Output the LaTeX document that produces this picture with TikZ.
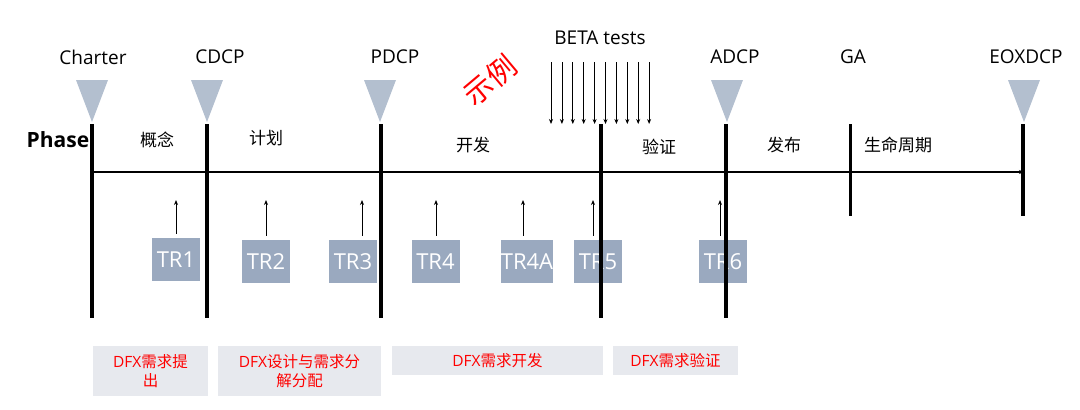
\documentclass[tikz,border=0pt]{standalone}
\usepackage{fontspec}
\setmainfont{Open Sans}
\newfontfamily\cjk{Noto Sans CJK SC}
\usetikzlibrary{arrows.meta}

\definecolor{gatecol}{HTML}{B3BFCF}
\definecolor{trcol}{HTML}{9AA9BF}
\definecolor{dfxcol}{HTML}{E7E9EE}

\begin{document}
\begin{tikzpicture}[x=1pt, y=-1pt, >={Stealth[length=5pt,width=4pt]},
    mslabel/.style={font=\fontsize{19}{22}\selectfont, inner sep=0pt},
    phaselabel/.style={font=\cjk\fontsize{17}{20}\selectfont, inner sep=0pt},
    trbox/.style={fill=trcol, text=white, minimum width=48pt, minimum height=43pt,
        inner sep=0pt, font=\fontsize{22}{24}\selectfont},
    dfxbox/.style={fill=dfxcol, text=red, inner sep=0pt, align=center,
        font=\fontsize{15.5}{19}\selectfont},
    gateline/.style={line width=4pt}]
    \useasboundingbox (0,0) rectangle (1080,410);

    % 1. 里程碑名称
    \foreach \x/\n/\txt in {93/charter/Charter, 220/cdcp/CDCP, 395/pdcp/PDCP,
        735/adcp/ADCP, 853/ga/GA, 1026/eox/EOXDCP}
        \node[mslabel] (\n) at (\x,57) {\txt};
    \node[mslabel] (beta) at (600,38) {BETA tests};

    % 2. 决策点三角形
    \foreach \x in {92,207,380,727,1024}
        \fill[gatecol] (\x-16,80) -- (\x+16,80) -- (\x,122) -- cycle;

    % 3. BETA 测试箭头
    \foreach \i in {0,...,9}
        \draw[->, line width=0.8pt] (551+\i*10.9,62) -- (551+\i*10.9,124);

    % 4. 示例水印
    \node[text=red, rotate=40, inner sep=0pt, font=\cjk\fontsize{29}{30}\selectfont] (sample) at (490,80) {示例};

    % 5. TR 评审点
    \foreach \x/\y/\n/\a in {176/259.5/1/176, 266/261.5/2/266, 353/261.5/3/362,
        435.5/261.5/4/436, 527/261.5/4A/523, 598/261.5/5/593, 723/261.5/6/720}
    {
        \node[trbox] (tr\n) at (\x,\y) {TR\n};
        \draw[->, line width=0.9pt] (\a,0 |- tr\n.north) ++(0,-4) -- (\a,200);
    }

    % 6. 阶段分界线与时间轴
    \foreach \x in {92,207,381,601,726}
        \draw[gateline] (\x,124) -- (\x,318);
    \draw[line width=3pt] (850,124) -- (850,216);
    \draw[line width=3.5pt] (1023,124) -- (1023,216);
    \coordinate (axisstart) at (92,172);
    \coordinate (axisend) at (1024,172);
    \draw[->, line width=1.8pt] (axisstart) -- (axisend);

    % 7. 阶段名称
    \node[font=\bfseries\fontsize{21}{23}\selectfont, inner sep=0pt] (phase) at (58,140) {Phase};
    \node[phaselabel] (concept) at (157,140) {概念};
    \node[phaselabel] (plan) at (266,138) {计划};
    \node[phaselabel] (develop) at (473,145) {开发};
    \node[phaselabel] (verify) at (659,147) {验证};
    \node[phaselabel] (release) at (784,145) {发布};
    \node[phaselabel] (lifecycle) at (898,145) {生命周期};

    % 8. DFX 活动
    \node[dfxbox, minimum width=115pt, minimum height=50pt] (dfx1) at (150.5,371)
        {DFX{\cjk 需求提}\\{\cjk 出}};
    \node[dfxbox, minimum width=163pt, minimum height=50pt] (dfx2) at (299.5,371)
        {DFX{\cjk 设计与需求分}\\{\cjk 解分配}};
    \node[dfxbox, minimum width=211pt, minimum height=29pt] (dfx3) at (497.5,360.5)
        {DFX{\cjk 需求开发}};
    \node[dfxbox, minimum width=125pt, minimum height=29pt] (dfx4) at (675.5,360.5)
        {DFX{\cjk 需求验证}};
\end{tikzpicture}
\end{document}
